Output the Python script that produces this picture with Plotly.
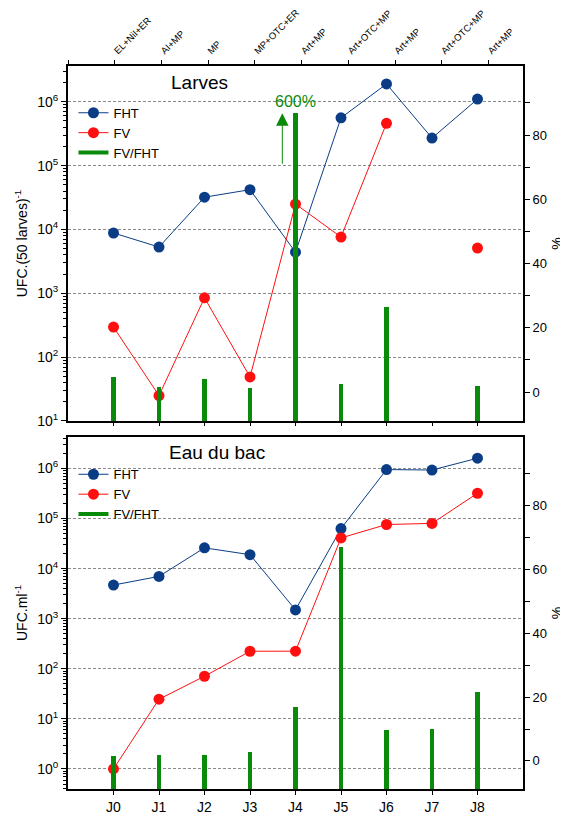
import plotly.graph_objects as go

# ---------------- data ----------------
days = ["J0", "J1", "J2", "J3", "J4", "J5", "J6", "J7", "J8"]
day_idx = list(range(len(days)))
treatments = ["EL+NiI+ER", "AI+MP", "MP", "MP+OTC+ER", "Art+MP",
              "Art+OTC+MP", "Art+MP", "Art+OTC+MP", "Art+MP"]

# Larves panel
larves_fht = [8.8e3, 5.3e3, 3.2e4, 4.2e4, 4.4e3, 5.6e5, 1.9e6, 2.7e5, 1.1e6]
larves_fv = [296, 25, 850, 49, 2.5e4, 7.6e3, 4.6e5, None, 5.1e3]
larves_ratio = [4.7, 1.6, 4.0, 1.2, 87, 2.5, 26.5, None, 1.9]   # %, J4 truncated (600 %)

# Eau du bac panel
eau_fht = [4.7e3, 7.0e3, 2.6e4, 1.9e4, 1.5e3, 6.3e4, 9.5e5, 9.3e5, 1.6e6]
eau_fv = [1.0, 24.7, 71, 224, 225, 4.1e4, 7.6e4, 8.0e4, 3.2e5]
eau_ratio = [1.6, 1.9, 1.8, 2.7, 16.8, 67.2, 9.7, 10.2, 21.6]    # %

pct_ticks = [0, 10, 20, 30, 40, 50, 60, 70, 80, 90]
pct_labels = ["0", "", "20", "", "40", "", "60", "", "80", ""]
top_range = [1, 6.56]
bot_range = [-0.4, 6.63]
pct_range_top = [-9, 101.5]
pct_range_bot = [-8.8, 101.6]

BLUE = "#0a3d86"
RED = "#ff1010"
GREEN = "#0a8a0a"
FONT = "Arial, Liberation Sans, sans-serif"

fig = go.Figure()

def add_panel(fht, fv, ratio, xa, ya, ya_pct, pct_min, legend):
    fig.add_trace(go.Scatter(x=day_idx, y=fht, mode="lines+markers", name="FHT",
                             line=dict(color=BLUE, width=1), marker=dict(size=11, color=BLUE),
                             xaxis=xa, yaxis=ya, legend=legend))
    fig.add_trace(go.Scatter(x=day_idx, y=fv, mode="lines+markers", name="FV",
                             line=dict(color=RED, width=1), marker=dict(size=11, color=RED),
                             connectgaps=False, xaxis=xa, yaxis=ya, legend=legend))
    # legend entry for the ratio bars (thick line symbol)
    fig.add_trace(go.Scatter(x=[None], y=[None], mode="lines", name="FV/FHT",
                             line=dict(color=GREEN, width=4), xaxis=xa, yaxis=ya, legend=legend))
    heights = [None if r is None else r - pct_min for r in ratio]
    fig.add_trace(go.Bar(x=day_idx, y=heights, base=pct_min, width=0.09,
                         marker=dict(color=GREEN, line=dict(width=0)),
                         showlegend=False, xaxis=xa, yaxis=ya_pct))

add_panel(larves_fht, larves_fv, larves_ratio, "x", "y", "y3", pct_range_top[0], "legend")
add_panel(eau_fht, eau_fv, eau_ratio, "x2", "y2", "y4", pct_range_bot[0], "legend2")

# dummy trace to carry the top treatment axis
fig.add_trace(go.Scatter(x=[None], y=[None], xaxis="x3", yaxis="y", showlegend=False,
                         hoverinfo="skip"))

axis_common = dict(showline=True, linecolor="black", linewidth=2, zeroline=False,
                   ticks="outside", tickcolor="black", tickwidth=1, automargin=False,
                   tickfont=dict(size=14, color="black", family=FONT))

decades_top = [10 ** k for k in range(1, 7)]
decades_bot = [10 ** k for k in range(0, 7)]
log_common = dict(type="log", showgrid=True, gridcolor="#8a8a8a", gridwidth=1,
                  griddash="3px,2px", ticklen=5,
                  minor=dict(ticks="outside", ticklen=3, tickcolor="black", dtick="D1",
                             showgrid=False))

# the page body adds an 8 px offset at top/left, so the figure is 8 px smaller
fig.update_layout(
    width=560, height=808,
    margin=dict(l=60, r=45, t=58, b=27),
    paper_bgcolor="white", plot_bgcolor="white",
    font=dict(family=FONT, color="black"),
    showlegend=True,
    bargap=0,
    xaxis=dict(domain=[0, 1], anchor="y", range=[-1, 9], tickvals=day_idx,
               showticklabels=False, showgrid=False, ticklen=3, **axis_common),
    xaxis3=dict(overlaying="x", side="top", anchor="y", range=[0, 9.74],
                tickvals=list(range(10)), ticktext=[""] + treatments, tickangle=-45,
                showgrid=False, ticklen=4,
                **{**axis_common, "tickfont": dict(size=9.5, color="black", family=FONT)}),
    yaxis=dict(domain=[0.509, 1], anchor="x", range=top_range,
               tickvals=decades_top,
               ticktext=[f"10<sup>{k}</sup>" for k in range(1, 7)],
               title=dict(text="UFC.(50 larves)<sup>-1</sup>", font=dict(size=14), standoff=6),
               **log_common, **axis_common),
    yaxis3=dict(overlaying="y", side="right", anchor="x", range=pct_range_top,
                tickvals=pct_ticks, ticktext=pct_labels, showgrid=False, ticklen=5,
                title=dict(text="%", font=dict(size=14), standoff=6),
                **{**axis_common, "tickfont": dict(size=13, color="black", family=FONT)}),
    xaxis2=dict(domain=[0, 1], anchor="y2", range=[-1, 9], tickvals=day_idx, ticktext=days,
                mirror=True, showgrid=False, ticklen=4, **axis_common),
    yaxis2=dict(domain=[0, 0.487], anchor="x2", range=bot_range,
                tickvals=decades_bot,
                ticktext=[f"10<sup>{k}</sup>" for k in range(0, 7)],
                title=dict(text="UFC.ml<sup>-1</sup>", font=dict(size=14), standoff=6),
                **log_common, **axis_common),
    yaxis4=dict(overlaying="y2", side="right", anchor="x2", range=pct_range_bot,
                tickvals=pct_ticks, ticktext=pct_labels, showgrid=False, ticklen=5,
                title=dict(text="%", font=dict(size=14), standoff=6),
                **{**axis_common, "tickfont": dict(size=13, color="black", family=FONT)}),
    legend=dict(x=0.012, y=0.956, xanchor="left", yanchor="top", bgcolor="rgba(0,0,0,0)",
                font=dict(size=13), tracegroupgap=0, itemwidth=30),
    legend2=dict(x=0.012, y=0.456, xanchor="left", yanchor="top", bgcolor="rgba(0,0,0,0)",
                 font=dict(size=13), tracegroupgap=0, itemwidth=30),
)

fig.add_annotation(text="Larves", xref="paper", yref="paper", x=0.29, y=0.977,
                   xanchor="center", yanchor="middle",
                   showarrow=False, font=dict(size=19, color="black"))
fig.add_annotation(text="Eau du bac", xref="paper", yref="paper", x=0.327, y=0.465,
                   xanchor="center", yanchor="middle",
                   showarrow=False, font=dict(size=19, color="black"))
# 600 % label and arrow for the truncated J4 bar
fig.add_annotation(text="600%", xref="x", yref="y3", x=4, y=90.3, showarrow=False,
                   font=dict(size=16, color=GREEN))
fig.add_annotation(text="", xref="x", yref="y3", x=3.71, y=86.8, ax=0, ay=52,
                   showarrow=True, arrowhead=2, arrowsize=2.5, arrowwidth=1,
                   arrowcolor=GREEN)

fig.write_html("out.html")
